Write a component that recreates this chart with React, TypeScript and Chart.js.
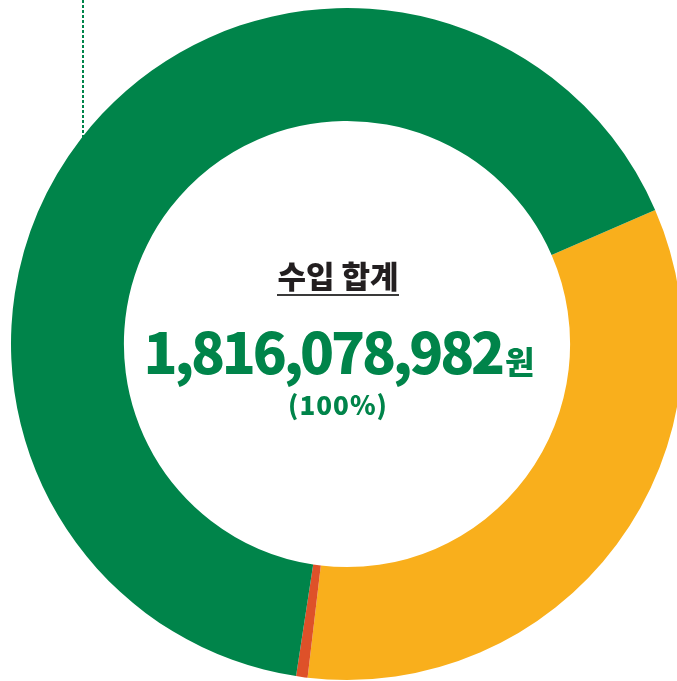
import React, { useEffect, useRef } from "react";
import { Chart, registerables } from "chart.js";

Chart.register(...registerables);

// Data (share of total income, %)
const categories: string[] = ["항목 1", "항목 2", "항목 3"];
const shares: number[] = [33.4, 0.55, 66.05];
const colors: string[] = ["#F9AF1C", "#DE5129", "#00844A"];
const titleText = "수입 합계";
const totalText = "1,816,078,982";
const unitText = "원";
const percentText = "(100%)";

const GREEN = "#00844A";

const dashedLine = {
  id: "dashedLine",
  beforeDatasetsDraw(chart: any) {
    const ctx = chart.ctx;
    ctx.save();
    ctx.strokeStyle = GREEN;
    ctx.lineWidth = 2;
    ctx.setLineDash([3, 2]);
    ctx.beginPath();
    ctx.moveTo(83, 0);
    ctx.lineTo(83, 140);
    ctx.stroke();
    ctx.restore();
  },
};

export default function App() {
  const ref = useRef<HTMLCanvasElement>(null);
  useEffect(() => {
    if (!ref.current) return;
    const chart = new Chart(ref.current, {
      type: "doughnut",
      data: {
        labels: categories,
        datasets: [
          {
            data: shares,
            backgroundColor: colors,
            borderWidth: 0,
          },
        ],
      },
      options: {
        responsive: false,
        animation: false,
        rotation: 66.5,
        cutout: "66.4%",
        layout: { padding: { left: 11, top: 8, right: 11, bottom: 8 } },
        plugins: {
          legend: { display: false },
          tooltip: { enabled: false },
        },
      },
      plugins: [dashedLine],
    });
    return () => chart.destroy();
  }, []);

  const font = "'Noto Sans CJK KR', 'Noto Sans', sans-serif";
  return (
    <div
      style={{
        position: "fixed",
        left: 0,
        top: 0,
        width: 677,
        height: 681,
        overflow: "hidden",
        background: "#fff",
      }}
    >
      <canvas
        ref={ref}
        width={694}
        height={688}
        style={{ position: "absolute", left: 0, top: 0, width: 694, height: 688 }}
      />
      <div
        style={{
          position: "absolute",
          left: 138,
          width: 400,
          top: 259,
          textAlign: "center",
          fontFamily: font,
          fontWeight: 900,
          fontSize: 31,
          lineHeight: "31px",
          color: "#231F20",
        }}
      >
        <span
          style={{
            display: "inline-block",
            paddingBottom: 4,
            borderBottom: "2px solid #3a3a3a",
          }}
        >
          {titleText}
        </span>
      </div>
      <div
        style={{
          position: "absolute",
          left: 89,
          width: 500,
          top: 322,
          textAlign: "center",
          fontFamily: font,
          fontWeight: 900,
          fontSize: 56,
          lineHeight: "56px",
          letterSpacing: "-3.2px",
          color: GREEN,
          whiteSpace: "nowrap",
        }}
      >
        {totalText}
        <span style={{ fontSize: 32, letterSpacing: 0, marginLeft: 3 }}>{unitText}</span>
      </div>
      <div
        style={{
          position: "absolute",
          left: 188,
          width: 300,
          top: 391,
          textAlign: "center",
          fontFamily: font,
          fontWeight: 900,
          fontSize: 26,
          lineHeight: "26px",
          letterSpacing: "1px",
          color: GREEN,
        }}
      >
        {percentText}
      </div>
    </div>
  );
}
